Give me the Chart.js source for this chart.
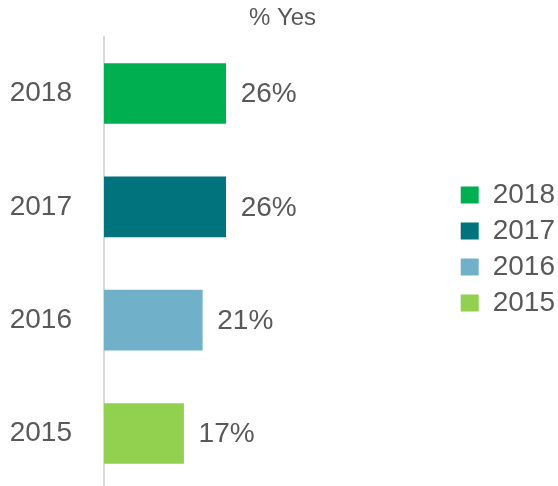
<!DOCTYPE html>
<html>
<head>
<meta charset="utf-8">
<script src="https://cdn.jsdelivr.net/npm/chart.js@4/dist/chart.umd.min.js"></script>
<style>
  html, body { margin: 0; padding: 0; background: #fff; overflow: hidden; }
  #wrap { width: 558px; height: 507px; position: relative; }
</style>
</head>
<body>
<div id="wrap"><canvas id="c"></canvas></div>
<script>
const categories = ['2018', '2017', '2016', '2015'];
const values = [26, 26, 21, 17];
const barColors = ['#00B050', '#00737D', '#70B1C9', '#92D050'];
const titleText = '% Yes';

const FONT = "'Liberation Sans', Arial, sans-serif";
const TEXT = '#595959';

const valueLabels = {
  id: 'valueLabels',
  afterDatasetsDraw(chart) {
    const ctx = chart.ctx;
    const meta = chart.getDatasetMeta(0);
    ctx.save();
    ctx.font = '28px ' + FONT;
    ctx.fillStyle = TEXT;
    ctx.textAlign = 'left';
    ctx.textBaseline = 'middle';
    meta.data.forEach((bar, i) => {
      ctx.fillText(values[i] + '%', bar.x + 15, bar.y + 1);
    });
    ctx.restore();
  }
};

new Chart(document.getElementById('c'), {
  type: 'bar',
  data: {
    labels: categories,
    datasets: [{
      data: values,
      backgroundColor: barColors,
      borderWidth: 0,
      barThickness: 60
    }]
  },
  options: {
    indexAxis: 'y',
    responsive: true,
    maintainAspectRatio: false,
    animation: false,
    layout: { padding: { left: 0, right: -7, top: 0, bottom: 0 } },
    scales: {
      x: { display: false, min: 0, max: 74.5 },
      y: {
        grid: { display: false, drawTicks: true, tickLength: 32, tickColor: 'rgba(0,0,0,0)' },
        border: { display: true, color: '#D9D9D9', width: 2 },
        ticks: { color: TEXT, font: { family: FONT, size: 28 }, padding: 0 },
        afterFit(scale) { scale.width = 104; }
      }
    },
    plugins: {
      title: {
        display: true,
        text: titleText,
        color: TEXT,
        font: { family: FONT, size: 24, weight: 'normal' },
        padding: { top: 4, bottom: 4 }
      },
      legend: {
        display: true,
        position: 'right',
        align: 'start',
        title: { display: true, text: ' ', font: { size: 10 }, padding: { top: 0, bottom: 161 } },
        labels: {
          boxWidth: 18,
          boxHeight: 17,
          padding: 8,
          color: TEXT,
          font: { family: FONT, size: 28 },
          generateLabels() {
            return categories.map((c, i) => ({
              text: c,
              fillStyle: barColors[i],
              strokeStyle: barColors[i],
              lineWidth: 0,
              hidden: false,
              index: i,
              fontColor: TEXT
            }));
          }
        }
      },
      tooltip: { enabled: false }
    }
  },
  plugins: [valueLabels]
});
</script>
</body>
</html>
